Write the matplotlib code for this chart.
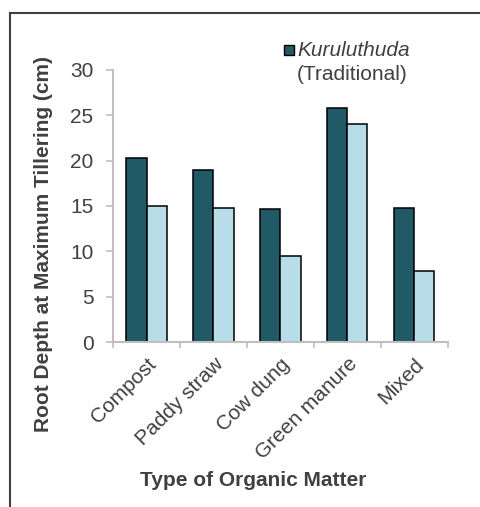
import matplotlib
matplotlib.use("Agg")
import matplotlib.pyplot as plt
import numpy as np
from matplotlib.lines import Line2D
from matplotlib.patches import Rectangle

plt.rcParams['font.family'] = ['Liberation Sans', 'DejaVu Sans']

# data
categories = ["Compost", "Paddy straw", "Cow dung", "Green manure", "Mixed"]
traditional = [20.3, 19.0, 14.7, 25.8, 14.8]
improved = [15.0, 14.8, 9.5, 24.0, 7.8]
yticks = [0, 5, 10, 15, 20, 25, 30]

dark = "#215967"
light = "#b7dee8"
txt = "#404040"
grid_c = "#bfbfbf"

fig = plt.figure(figsize=(4.81, 5.07), dpi=100)
ax = fig.add_axes([0.235, 0.3254, 0.696, 0.5366])

x = np.arange(len(categories))
w = 0.3
ax.bar(x - w / 2, traditional, w, color=dark, edgecolor="black", linewidth=1.1)
ax.bar(x + w / 2, improved, w, color=light, edgecolor="black", linewidth=1.1)

ax.set_xlim(-0.5, len(categories) - 0.5)
ax.set_ylim(0, 30)
ax.set_yticks(yticks)
ax.set_xticks(x)
ax.set_xticklabels(categories, rotation=45, ha="right", rotation_mode="anchor")
ax.set_xticks(np.arange(len(categories) + 1) - 0.5, minor=True)
ax.tick_params(axis="x", which="major", length=0, pad=9, labelsize=15, labelcolor=txt)
ax.tick_params(axis="x", which="minor", length=4.5, width=1.2, color=grid_c)
ax.tick_params(axis="y", length=5, width=1.2, color=grid_c, labelsize=15,
               labelcolor=txt, pad=9)

for s in ["top", "right"]:
    ax.spines[s].set_visible(False)
for s in ["left", "bottom"]:
    ax.spines[s].set_color(grid_c)
    ax.spines[s].set_linewidth(1.5)

fig.text(44 / 481, 1 - 244 / 507, "Root Depth at Maximum Tillering (cm)", fontsize=15,
         fontweight="bold", color=txt, rotation=90, ha="center", va="center")
fig.text(253 / 481, 1 - 480 / 507, "Type of Organic Matter", fontsize=15,
         fontweight="bold", color=txt, ha="center", va="center")

# legend (only the first series is shown in the reference)
fig.add_artist(Rectangle((284 / 481, 1 - 55 / 507), 10 / 481, 10 / 507,
                         facecolor=dark, edgecolor="black", linewidth=1.0,
                         transform=fig.transFigure))
fig.text(297 / 481, 1 - 50 / 507, "Kuruluthuda", fontsize=15, style="italic",
         color=txt, ha="left", va="center")
fig.text(297 / 481, 1 - 75 / 507, "(Traditional)", fontsize=15,
         color=txt, ha="left", va="center")

# frame around the chart area
fig.add_artist(Line2D([10 / 481, 10 / 481], [0, 1 - 13 / 507], color=txt, lw=1.5))
fig.add_artist(Line2D([10 / 481, 1], [1 - 13 / 507, 1 - 13 / 507], color=txt, lw=1.5))

fig.savefig("out.png", dpi=100)
